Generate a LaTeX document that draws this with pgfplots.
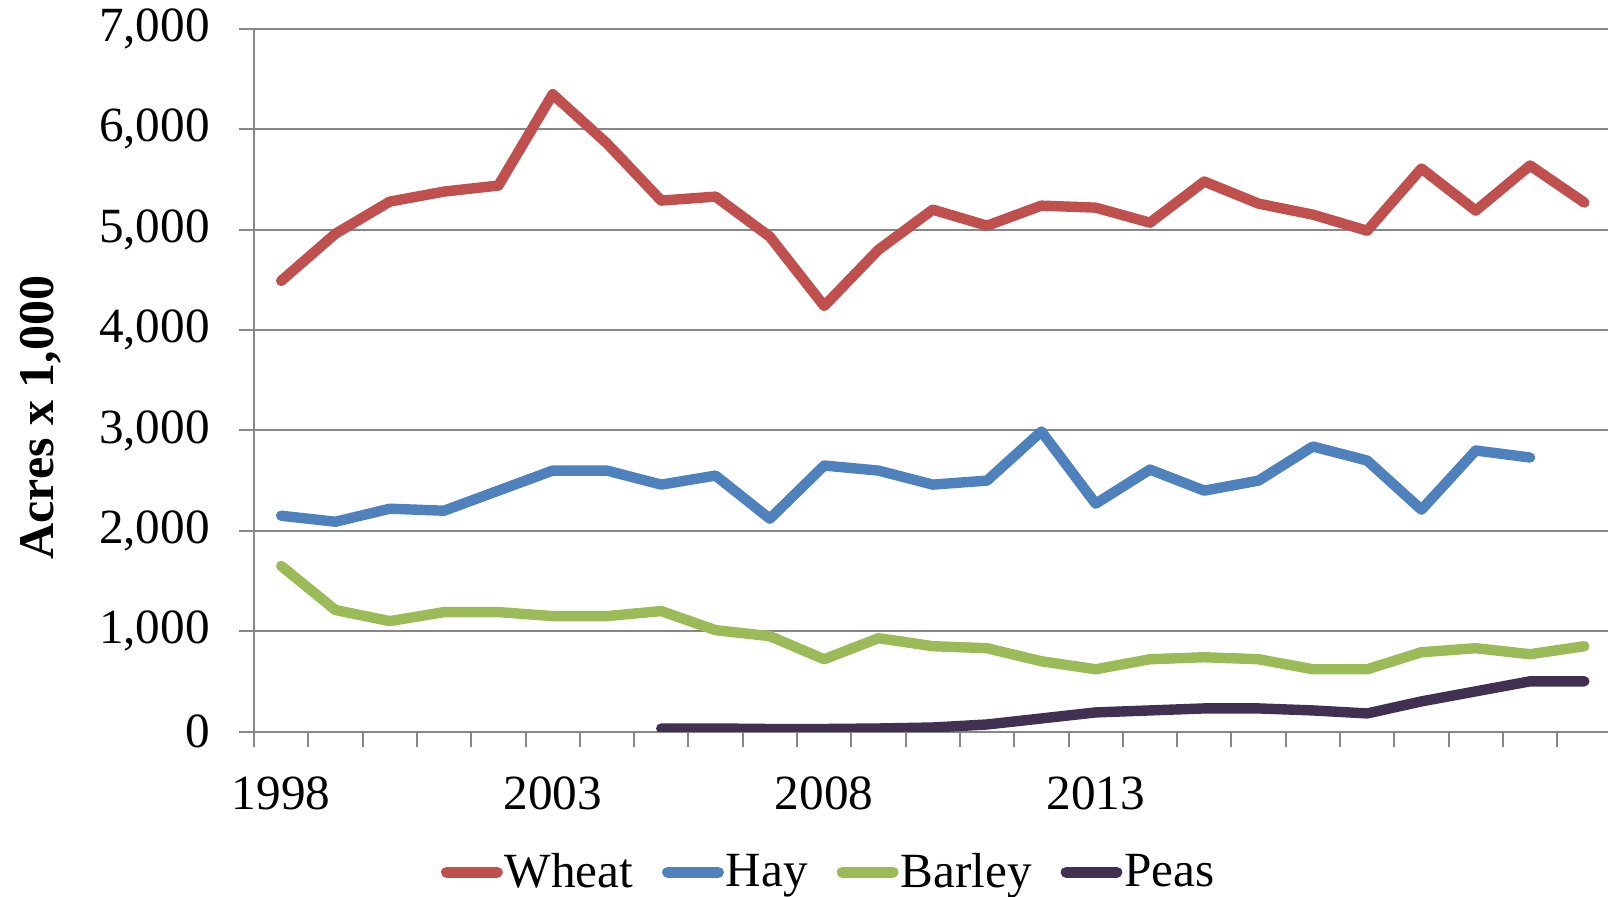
\documentclass[border=0pt]{standalone}
\usepackage{fontspec}
\setmainfont{Liberation Serif}
\usepackage{pgfplots}
\pgfplotsset{compat=1.18}
\definecolor{wheatc}{HTML}{C0504D}
\definecolor{hayc}{HTML}{4F81BD}
\definecolor{barleyc}{HTML}{9BBB59}
\definecolor{peasc}{HTML}{403152}
\definecolor{axgray}{HTML}{878787}
\begin{document}
\begin{tikzpicture}
\begin{axis}[
  at={(127pt,82.25pt)}, anchor=south west,
  scale only axis, width=678.75pt, height=351.25pt,
  xmin=-0.5, xmax=24.5, ymin=0, ymax=7000,
  axis x line*=bottom, axis y line*=left,
  axis line style={draw=axgray, line width=1pt},
  ytick={0,1000,...,7000},
  ymajorgrids, grid style={draw=axgray, line width=1pt},
  xtick={-0.5,0.5,...,24.5}, xticklabels={},
  extra x ticks={0,5,10,15}, extra x tick labels={1998,2003,2008,2013},
  extra x tick style={major tick length=0pt, grid=none},
  tick align=outside, major tick length=7.5pt,
  tick style={draw=axgray, line width=1pt},
  ticklabel style={font=\fontsize{24.6}{29}\selectfont},
  yticklabel style={anchor=east, inner sep=0pt, xshift=-14.4pt},
  xticklabel style={anchor=north, inner sep=0pt, yshift=-22.6pt},
  /pgf/number format/.cd, 1000 sep={,}, assume math mode=true, /pgfplots/.cd,
  ylabel={Acres x 1,000},
  every axis y label/.style={at={(axis description cs:-0.157,0.447)}, rotate=90, anchor=center,
    font=\fontsize{25}{30}\selectfont\bfseries},
  legend columns=4,
  legend style={draw=none, fill=none, at={(axis description cs:0.1375,-0.2004)}, anchor=west,
    font=\fontsize{24.6}{29}\selectfont, inner sep=0pt,
    /tikz/every odd column/.append style={column sep=1pt},
    /tikz/every even column/.append style={column sep=14.5pt},
    nodes={inner sep=0pt}},
  legend image code/.code={\draw[#1, line cap=round, line width=5.5pt] (2.75pt,0pt) -- (28.1pt,0pt);},
  every axis plot/.append style={line width=5.2pt, line join=round, line cap=round, no markers},
]
\addplot[draw=wheatc] coordinates {(0,4490) (1,4960) (2,5280) (3,5380) (4,5440) (5,6350) (6,5860) (7,5290) (8,5330) (9,4930) (10,4240) (11,4800) (12,5200) (13,5040) (14,5240) (15,5220) (16,5070) (17,5480) (18,5260) (19,5150) (20,4990) (21,5610) (22,5190) (23,5640) (24,5270)};
\addlegendentry{Wheat}
\addplot[draw=hayc] coordinates {(0,2150) (1,2090) (2,2220) (3,2200) (4,2400) (5,2600) (6,2600) (7,2460) (8,2550) (9,2120) (10,2650) (11,2600) (12,2460) (13,2500) (14,2990) (15,2270) (16,2610) (17,2400) (18,2500) (19,2840) (20,2700) (21,2210) (22,2800) (23,2730)};
\addlegendentry{Hay}
\addplot[draw=barleyc] coordinates {(0,1650) (1,1210) (2,1100) (3,1190) (4,1190) (5,1150) (6,1150) (7,1200) (8,1010) (9,950) (10,720) (11,930) (12,850) (13,830) (14,700) (15,620) (16,720) (17,740) (18,720) (19,620) (20,620) (21,790) (22,830) (23,770) (24,850)};
\addlegendentry{Barley}
\addplot[draw=peasc] coordinates {(7,30) (8,30) (9,25) (10,25) (11,30) (12,40) (13,70) (14,130) (15,190) (16,210) (17,230) (18,230) (19,210) (20,180) (21,300) (22,400) (23,500) (24,500)};
\addlegendentry{Peas}
\end{axis}
\pgfresetboundingbox
\path[use as bounding box] (0,0) rectangle (804pt,448pt);
\end{tikzpicture}
\end{document}
